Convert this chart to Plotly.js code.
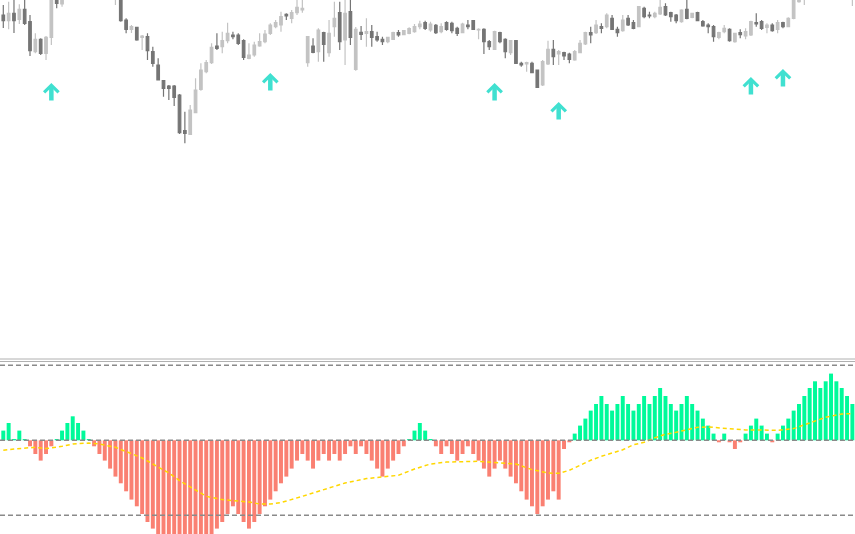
<!DOCTYPE html>
<html>
<head>
<meta charset="utf-8">
<script src="https://cdn.plot.ly/plotly-3.0.1.min.js"></script>
<style>
html,body{margin:0;padding:0;background:#ffffff;}
#chart{width:855px;height:534px;}
</style>
</head>
<body>
<div id="chart"></div>
<script>
// ---- price candles (price units) ----
const openP = [
 185, 179.3, 186.7, 180.7, 190.7, 178.3, 148.3, 160.7, 146.7, 162.7,
 204, 196, 208, 220, 230, 225, 240, 235, 228, 218,
 222, 202, 208, 180, 170.7, 172.7, 162.7, 163.3, 148.3, 135,
 119.3, 114, 114, 105, 69.3, 65.7, 87.3, 110.7, 128.3, 137.3,
 154, 153.3, 159.3, 165, 165, 159.3, 141.7, 145, 154, 158.3,
 166.7, 173.3, 175, 185.7, 181.7, 187.3, 190, 137.3, 154, 148.3,
 167.3, 147.3, 173.3, 187.3, 160, 188.3, 130.7, 167.7, 166.7, 168.3,
 163.3, 160.7, 158.3, 160.7, 167.3, 165.3, 166.7, 168.3, 173.3, 177.3,
 170, 174.7, 168.3, 177.3, 176.7, 171.7, 167.3, 175, 179.3, 170,
 170.7, 158.3, 150.7, 167.3, 160.7, 147.3, 159.3, 136.7, 136, 136.7,
 130, 115, 136, 150.7, 146, 147.3, 146, 140, 147.3, 156,
 167.3, 167.3, 173.3, 173.3, 181.7, 170.7, 169.3, 181.7, 177.3, 173.3,
 191.7, 185, 183.3, 186, 193.3, 187.3, 185, 178.3, 190.7, 182.7,
 187.3, 178.3, 175, 173.3, 162.7, 168.3, 170.7, 158.3, 167.3, 164,
 165, 177.3, 178.3, 172.7, 175, 170.7, 177.3, 173.3, 181.7, 198.3,
 202, 212, 222, 218, 230, 226, 236, 228, 222, 205
];
const highP = [
 195, 198.3, 202, 195.7, 202, 185, 166.7, 161.7, 164, 210,
 210, 212, 225, 238, 240, 245, 248, 242, 233, 228,
 226, 218, 212, 181.7, 175, 173.3, 165, 166.7, 153.3, 141.7,
 120, 115, 115, 106, 88.3, 95, 121.7, 136.7, 140, 156.7,
 166.7, 168.3, 177.3, 168.3, 166.7, 160.7, 156.7, 158.3, 166.7, 170,
 176.7, 180, 188.3, 186.7, 190, 202, 202, 164, 161.7, 171.7,
 168.3, 180, 198.3, 198.3, 203, 203, 173, 174, 181.7, 175,
 168.3, 163.3, 163.3, 168.3, 170, 170, 172.7, 176, 179.3, 179.3,
 178.3, 176, 176.7, 178.7, 178.3, 173.3, 177.3, 180, 180, 171.7,
 171.7, 160, 169.3, 168.3, 161.7, 160, 160, 138.3, 138.3, 138.3,
 130, 140, 159.3, 160, 150, 148.3, 147.3, 150, 160, 168.3,
 173.3, 180, 176.7, 186.7, 185, 173.3, 185, 185, 180, 194,
 193.3, 188.3, 188.3, 200, 196.7, 188.3, 186, 190.7, 200, 187.3,
 188.3, 180, 176.7, 175, 168.3, 175, 171.7, 167.3, 170.7, 171.7,
 179.3, 186.7, 180, 176.7, 176.7, 180, 178.3, 182.7, 208, 208,
 218, 228, 230, 234, 238, 240, 242, 232, 226, 214
];
const lowP = [
 172, 170.7, 167, 176, 175, 144, 146.7, 145, 140, 155,
 191.7, 193.3, 205, 215, 220, 222, 230, 225, 214, 212,
 206, 195, 178.3, 166.7, 167, 159.3, 150, 140, 133.3, 119.5,
 103.3, 100, 94, 66, 56.7, 65, 86.7, 109.3, 126.7, 136,
 150, 146.7, 156.7, 160.7, 155, 140, 140.7, 143.3, 153.3, 156.7,
 165, 171.7, 168.3, 180, 176.7, 185, 187.3, 133.3, 146.7, 138.3,
 138.3, 143.3, 163.3, 150, 135, 155, 129.3, 160, 153.3, 153.3,
 158.3, 155, 156.7, 160, 163.3, 164.7, 165.7, 167.3, 170.7, 170,
 168.3, 166, 166.7, 169.3, 166.7, 164, 166.7, 170.7, 170, 160.7,
 146, 150, 150, 156.7, 141.7, 145, 136.7, 133.3, 128.3, 126.7,
 112.7, 114, 135, 135, 135, 140, 136.7, 139.3, 146.7, 155,
 156.7, 166, 166.7, 171.7, 170, 163.3, 168.3, 174, 170.7, 172.7,
 181.7, 181.7, 181.7, 185, 184, 178.3, 176.7, 177.3, 180.7, 181.7,
 179, 173.3, 166.7, 158.3, 160.7, 166.7, 158.3, 157.3, 161.7, 160.7,
 164, 173.3, 170, 166.7, 168.3, 166.7, 171.7, 172.7, 180.7, 197.3,
 195, 205, 212, 214, 220, 222, 224, 215, 208, 194
];
const closeP = [
 179.3, 186.7, 179.3, 190.7, 176.7, 149.3, 160.7, 146.7, 162.7, 205,
 196.7, 206, 220, 230, 225, 240, 235, 228, 218, 222,
 210, 212, 179.3, 170.7, 173.3, 160, 164, 149.3, 136.7, 120,
 111.7, 111.7, 102.7, 67.3, 66.7, 90, 110, 130, 137.3, 152.7,
 151.7, 159.3, 166.7, 163.3, 156.7, 142.7, 145, 155, 158.3, 166,
 175, 177.3, 183.3, 184, 187.3, 192.7, 191.7, 163.3, 147.7, 170,
 155.7, 166.7, 181.7, 158.3, 186.7, 162.7, 170.7, 165.7, 168.3, 162.7,
 160, 158.3, 162.7, 167.3, 165, 169.3, 171.3, 173.3, 176, 171.7,
 176, 167.3, 173.3, 170.7, 169.3, 166.7, 176, 173.3, 170.7, 170.7,
 158.3, 153.3, 168.3, 158.3, 148.3, 159.3, 136.7, 135, 137.3, 127.3,
 112.7, 138.3, 150.7, 143.3, 148.3, 144, 140.7, 148.3, 156.7, 167.3,
 165, 175, 171.7, 185, 170.7, 167.3, 180, 175, 171.7, 193.3,
 183.3, 184, 186.7, 192.7, 185, 183.3, 179.3, 190, 181.7, 186.7,
 179.3, 174, 173.3, 163.3, 167.3, 171.7, 159.3, 166.7, 165.3, 168.3,
 178.3, 176, 171.7, 175, 169.3, 177.3, 173.3, 181.7, 203, 203,
 212, 222, 218, 230, 226, 236, 228, 222, 215, 210
];

// ---- buy signal arrows ----
const arrowIdx = [9, 50, 92, 104, 140, 146];
const arrowPrice = [117, 127, 117, 98, 123, 131];

// ---- oscillator histogram ----
const histVal = [
 9.7, 17.3, 1.3, 9.7, 1.3, -6, -13.7, -20.3, -13.7, -6,
 1.3, 9.7, 17.3, 24, 17.3, 9.7, 1.3, -6, -13.7, -20.3,
 -28.3, -36.3, -43, -51, -59.3, -66, -73.7, -81.7, -88.3, -96,
 -103, -108, -112, -115, -117, -116, -113, -108, -102, -95,
 -88.3, -81.7, -73.7, -66, -73.7, -81.7, -88.3, -81.7, -73.7, -66,
 -59.3, -51, -43, -36.3, -28.3, -20.3, -13.7, -20.3, -28.3, -20.3,
 -13.7, -20.3, -13.7, -20.3, -13.7, -6, -13.7, -6, -13.7, -20.3,
 -28.3, -36.3, -28.3, -20.3, -13.7, -6, 1.3, 9.7, 17.3, 9.7,
 1.3, -6, -13.7, -6, -13.7, -20.3, -13.7, -6, -13.7, -20.3,
 -28.3, -36.3, -28.3, -20.3, -28.3, -36.3, -43, -51, -59.3, -66,
 -73.7, -66, -59.3, -51, -59.3, -8.7, -2, 6.7, 14.7, 21.7,
 29.7, 36.3, 44.3, 36.3, 29.7, 36.3, 44.3, 36.3, 29.7, 36.3,
 44.3, 36.3, 44.3, 52.3, 44.3, 36.3, 29.7, 36.3, 44.3, 36.3,
 29.7, 21.7, 14.7, 6.7, -2, 6.7, -2, -8.7, -2, 6.7,
 14.7, 21.7, 14.7, 6.7, -2, 6.7, 14.7, 21.7, 29.7, 36.3,
 44.3, 52.3, 59, 52.3, 59, 66.7, 59, 52.3, 44.3, 36.3
];

// ---- signal line ----
const sigIdx = [0, 2, 6, 8, 11, 13, 16, 18, 21, 23, 26, 28, 31, 33, 36, 38, 41, 43, 46, 48,
 50, 52, 54, 56, 58, 61, 64, 68, 71, 74, 77, 80, 83, 86, 89, 93, 96, 99, 102, 104,
 106, 108, 110, 112, 114, 116, 118, 120, 122, 124, 126, 128, 130, 132, 134, 137, 139, 142, 145, 148,
 151, 154, 157, 159];
const sigVal = [-10, -8.7, -7, -8.3, -6, -3.7, -2.7, -3.7, -7, -11, -17.7, -23.7, -32.7, -40.3, -49.3, -56, -59.3, -60.3, -61.7, -63.7,
 -63.7, -62.3, -59.5, -56, -52.7, -47.7, -42.7, -38.3, -37, -35, -28.7, -23.7, -21.7, -21, -21, -22.7, -23.7, -29.3, -32.7, -33,
 -30, -25, -20, -16, -13, -9.5, -4.5, -2, 2.5, 6, 8, 10.3, 13, 13.3, 12.3, 10.7, 10.3, 10.3, 10, 11.7,
 17.3, 23, 26.3, 26.7];

// ---- oscillator levels ----
const levels = [75, 0, -75];

const idx = openP.map((_, i) => i);

const candle = {
  type: 'candlestick', x: idx, open: openP, high: highP, low: lowP, close: closeP,
  xaxis: 'x', yaxis: 'y',
  increasing: {line: {color: '#c3c3c3', width: 1.2}, fillcolor: '#c3c3c3'},
  decreasing: {line: {color: '#757575', width: 1.2}, fillcolor: '#757575'},
  whiskerwidth: 0, hoverinfo: 'skip', showlegend: false
};

const hist = {
  type: 'bar', x: idx, y: histVal, xaxis: 'x', yaxis: 'y2', width: 0.74,
  marker: {color: histVal.map(v => v >= 0 ? '#00FA9A' : '#FA8072'), line: {width: 0}},
  hoverinfo: 'skip', showlegend: false
};

const sig = {
  type: 'scatter', mode: 'lines', x: sigIdx, y: sigVal, xaxis: 'x', yaxis: 'y2',
  line: {color: '#FFD700', width: 1.5, dash: '4px,3px'},
  hoverinfo: 'skip', showlegend: false
};

const shapes = levels.map(v => ({
  type: 'line', xref: 'paper', x0: 0, x1: 1, yref: 'y2', y0: v, y1: v,
  line: {color: '#8a8a8a', width: 1.5, dash: '5px,3px'}, layer: 'above'
}));
[359, 361.5].forEach(py => shapes.push({
  type: 'line', xref: 'paper', x0: 0, x1: 1, yref: 'paper', y0: (534 - py) / 534, y1: (534 - py) / 534,
  line: {color: '#b0b0b0', width: 1}
}));

const annotations = arrowIdx.map((xi, k) => ({
  x: xi, y: arrowPrice[k], xref: 'x', yref: 'y', text: '', showarrow: true,
  arrowhead: 4, arrowsize: 0.62, arrowwidth: 4.5, arrowcolor: '#40E0D0', ax: 0, ay: 19
}));

const layout = {
  width: 855, height: 534,
  margin: {l: 0, r: 0, t: 0, b: 0, pad: 0},
  paper_bgcolor: '#ffffff', plot_bgcolor: '#ffffff',
  showlegend: false, hovermode: false,
  boxgap: 0.32,
  xaxis: {range: [-0.618, 159.49], visible: false, rangeslider: {visible: false}, fixedrange: true},
  yaxis: {domain: [(534 - 358) / 534, 1], range: [-158, 200], visible: false, fixedrange: true},
  yaxis2: {domain: [0, (534 - 362) / 534], range: [-93.7, 78.3], visible: false, fixedrange: true},
  shapes: shapes,
  annotations: annotations
};

Plotly.newPlot('chart', [hist, sig, candle], layout, {staticPlot: true, displayModeBar: false});
</script>
</body>
</html>
